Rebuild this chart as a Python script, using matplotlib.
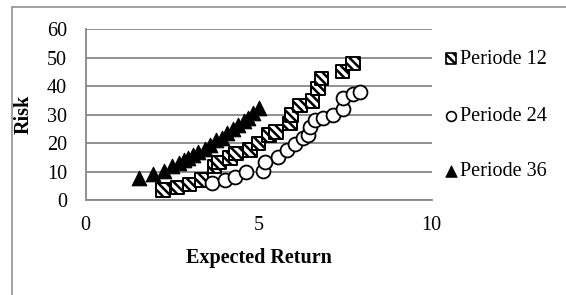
import matplotlib
matplotlib.use("Agg")
import matplotlib.pyplot as plt
from matplotlib.patches import Rectangle

plt.rcParams['font.family'] = ['Liberation Serif', 'DejaVu Serif']
plt.rcParams['hatch.linewidth'] = 1.8

# ---- data ----
x12 = [2.24, 2.65, 3.0, 3.35, 3.72, 3.85, 4.17, 4.35, 4.75, 5.0, 5.3, 5.5, 5.9, 5.95, 6.2, 6.55, 6.72, 6.82, 7.42, 7.73]
y12 = [3.6, 4.5, 5.6, 7.1, 11.8, 13.2, 14.8, 16.5, 17.6, 20.0, 23.0, 24.0, 27.0, 29.9, 33.2, 34.8, 39.3, 42.8, 45.2, 48.0]

x24 = [3.64, 4.03, 4.32, 4.62, 5.13, 5.18, 5.55, 5.83, 6.05, 6.29, 6.43, 6.48, 6.63, 6.87, 7.16, 7.45, 7.45, 7.73, 7.93]
y24 = [6.0, 7.1, 8.1, 10.0, 10.2, 13.5, 15.3, 17.6, 19.8, 21.8, 22.9, 25.8, 28.2, 28.8, 29.9, 31.9, 35.8, 37.3, 38.1]

x36 = [1.55, 1.95, 2.27, 2.5, 2.7, 2.85, 2.95, 3.1, 3.25, 3.45, 3.6, 3.77, 3.93, 4.07, 4.26, 4.4, 4.58, 4.69, 4.83, 5.0]
y36 = [7.8, 9.2, 10.3, 12.0, 13.2, 14.0, 15.0, 16.0, 16.8, 18.0, 19.5, 21.0, 22.0, 23.5, 25.0, 26.4, 28.0, 29.0, 30.5, 32.5]

series_labels = ["Periode 12", "Periode 24", "Periode 36"]
xticks = [0, 5, 10]
yticks = [0, 10, 20, 30, 40, 50, 60]
xlabel = "Expected Return"
ylabel = "Risk"

W, H = 566, 295
fig = plt.figure(figsize=(W / 100, H / 100), dpi=100)

gray = '#888888'
fs = 14.5

# outer chart border (cropped at right/bottom)
fig.add_artist(Rectangle((12 / W, -0.1), 1.2, (H - 7) / H + 0.1, transform=fig.transFigure,
                         fill=False, edgecolor=gray, linewidth=1.1))

ax = fig.add_axes([85.7 / W, (H - 200.3) / H, 346 / W, 171 / H])
ax.set_xlim(0, 10)
ax.set_ylim(0, 60)
ax.set_xticks(xticks)
ax.set_yticks(yticks)
ax.tick_params(length=0, labelsize=fs)
ax.tick_params(axis='y', pad=13.5)
ax.tick_params(axis='x', pad=11)
for s in ['top', 'right']:
    ax.spines[s].set_visible(False)
for s in ['left', 'bottom']:
    ax.spines[s].set_color(gray)
    ax.spines[s].set_linewidth(1.3)
ax.yaxis.grid(True, color=gray, linewidth=1.3)
ax.set_axisbelow(True)

ax.scatter(x12, y12, marker='s', s=95, facecolor='white', edgecolor='black',
           hatch='\\\\\\\\', linewidths=1.4, zorder=3)
ax.scatter(x24, y24, marker='o', s=100, facecolor='white', edgecolor='black',
           linewidths=1.3, zorder=4)
ax.scatter(x36, y36, marker='^', s=110, facecolor='black', edgecolor='black',
           linewidths=0.8, zorder=5)

ax.set_xlabel(xlabel, fontsize=fs, fontweight='bold')
ax.xaxis.label.set_va('center')
ax.xaxis.set_label_coords(0.5, (200.3 - 258.5) / 171)
ax.set_ylabel(ylabel, fontsize=fs, fontweight='bold')
ax.yaxis.label.set_va('center')
ax.yaxis.set_label_coords((24 - 85.7) / 346, 0.5)

# legend (manual placement)
ov = fig.add_axes([0, 0, 1, 1])
ov.set_xlim(0, W)
ov.set_ylim(H, 0)
ov.axis('off')
ov.patch.set_alpha(0)
leg_y = [58.5, 115.5, 171]
ov.scatter([451], [leg_y[0]], marker='s', s=62, facecolor='white', edgecolor='black',
           hatch='\\\\\\\\', linewidths=1.2)
ov.scatter([451], [leg_y[1]], marker='o', s=50, facecolor='white', edgecolor='black',
           linewidths=1.2)
ov.scatter([451], [leg_y[2]], marker='^', s=70, facecolor='black', edgecolor='black',
           linewidths=0.5)
for lab, yy in zip(series_labels, leg_y):
    ov.text(460, yy + 1, lab, fontsize=fs, va='center', ha='left')

fig.savefig('out.png', dpi=100)
